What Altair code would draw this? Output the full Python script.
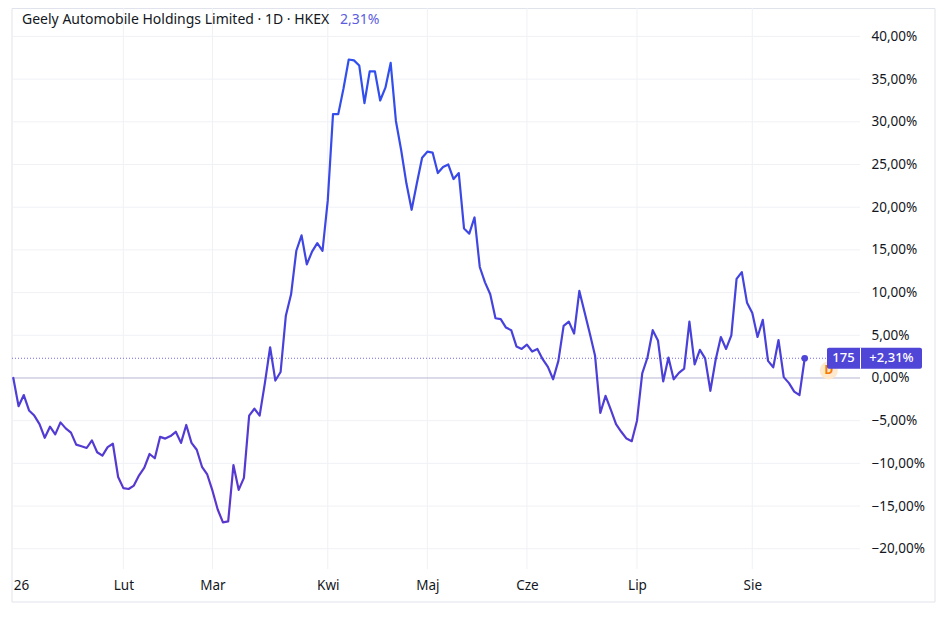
import altair as alt
import pandas as pd

# ---- data ----
values = [
    0.0, -3.3, -2.0, -3.8, -4.4, -5.4, -7.0, -5.7, -6.6, -5.2,
    -5.9, -6.4, -7.8, -8.0, -8.2, -7.3, -8.7, -9.1, -8.1, -7.7,
    -11.6, -12.9, -13.0, -12.6, -11.4, -10.5, -8.9, -9.4, -6.9, -7.1,
    -6.8, -6.3, -7.6, -5.5, -7.6, -8.4, -10.4, -11.3, -13.2, -15.4,
    -16.9, -16.8, -10.2, -13.1, -11.7, -4.4, -3.6, -4.4, -0.6, 3.6,
    -0.3, 0.7, 7.3, 9.8, 14.9, 16.7, 13.3, 14.8, 15.8, 14.9,
    20.8, 30.9, 30.9, 33.9, 37.3, 37.2, 36.6, 32.2, 35.9, 35.9,
    32.5, 34.0, 36.9, 30.1, 26.7, 22.8, 19.7, 22.8, 25.8, 26.5,
    26.4, 24.0, 24.7, 25.0, 23.3, 24.0, 17.5, 16.9, 18.8, 13.0,
    11.2, 9.8, 7.0, 6.9, 5.9, 5.6, 3.7, 3.4, 3.9, 3.1,
    3.4, 2.2, 1.3, -0.15, 2.0, 6.1, 6.6, 5.2, 10.2, 7.7,
    5.2, 2.6, -4.1, -2.1, -3.7, -5.4, -6.3, -7.1, -7.4, -5.0,
    0.55, 2.4, 5.6, 4.4, -0.4, 2.4, -0.15, 0.6, 1.1, 6.6,
    1.6, 3.3, 2.3, -1.5, 2.1, 4.8, 3.4, 5.0, 11.6, 12.4,
    8.8, 7.6, 4.8, 6.8, 2.0, 1.25, 4.45, 0.1, -0.6, -1.6,
    -2.0, 2.31,
]
month_labels = ["26", "Lut", "Mar", "Kwi", "Maj", "Cze", "Lip", "Sie"]
month_starts = [0, 21, 38, 60, 79, 98, 119, 141]   # trading-day index of each month's first session
y_ticks = [-20, -15, -10, -5, 0, 5, 10, 15, 20, 25, 30, 35, 40]
last_value = values[-1]
price_label = "175"
change_label = "+2,31%"
title_main = "Geely Automobile Holdings Limited · 1D · HKEX"
title_change = "2,31%"
dividend_marker = {"i": [155.6], "v": [0.9], "t": ["D"]}

# ---- styling ----
FONT = "Noto Sans"
TEXT = "#131722"
GRID = "#f0f1f5"
ACCENT = "#4f45d6"
W, H = 848, 561
X_DOM = [-0.25, 161.55]
Y_DOM = [-22.37, 43.33]

df = pd.DataFrame({"i": list(range(len(values))), "v": values})
one = pd.DataFrame({"a": [0]})
last_df = df.tail(1)
div_df = pd.DataFrame(dividend_marker)
months_df = pd.DataFrame({"i": month_starts[1:]})
yt_df = pd.DataFrame({"v": [t for t in y_ticks if t != 0]})

label_expr = "''"
for s, lab in zip(month_starts, month_labels):
    label_expr = f"datum.value == {s} ? '{lab}' : ({label_expr})"

x_scale = alt.Scale(domain=X_DOM, nice=False, zero=False)
y_scale = alt.Scale(domain=Y_DOM, nice=False, zero=False)

x_axis = alt.Axis(
    values=month_starts, labelExpr=label_expr, grid=False,
    domain=False, ticks=False, labelPadding=9, labelFontSize=13.5,
    labelColor=TEXT, labelFont=FONT, title=None, labelFlush=False,
    labelAlign={"condition": {"test": "datum.value == 0", "value": "left"}, "value": "center"},
)
y_axis = alt.Axis(
    orient="right", values=y_ticks,
    labelExpr="replace(format(datum.value / 100, '.2%'), '.', ',')",
    grid=False, domain=False, ticks=False, labelPadding=11,
    labelFontSize=13.5, labelColor=TEXT, labelFont=FONT, title=None,
)

gradient = alt.Gradient(
    gradient="linear",
    stops=[alt.GradientStop(color="#5d36cc", offset=0),
           alt.GradientStop(color="#4a40d8", offset=0.35),
           alt.GradientStop(color="#2f50ef", offset=1)],
    x1=0, x2=0, y1=1, y2=0,
)

frame = alt.Chart(one).mark_rect(fill="transparent", stroke="#e0e3eb", strokeWidth=1).encode(
    x=alt.value(0), x2=alt.value(923), y=alt.value(0.5), y2=alt.value(594)
)

vgrid = alt.Chart(months_df).mark_rule(color=GRID, strokeWidth=1).encode(
    x=alt.X("i:Q", scale=x_scale, axis=x_axis), y=alt.value(0), y2=alt.value(H)
)
hgrid = alt.Chart(yt_df).mark_rule(color=GRID, strokeWidth=1).encode(
    y=alt.Y("v:Q", scale=y_scale, axis=y_axis), x=alt.value(0), x2=alt.value(W)
)

line = alt.Chart(df).mark_line(stroke=gradient, strokeWidth=2.2, strokeJoin="round", strokeCap="round").encode(
    x=alt.X("i:Q"),
    y=alt.Y("v:Q"),
)

zero_rule = alt.Chart(one).mark_rule(color="#b7b6d2", strokeWidth=1).encode(
    y=alt.datum(0), x=alt.value(0), x2=alt.value(W)
)
last_rule = alt.Chart(one).mark_rule(color="#7167e6", strokeWidth=1, strokeDash=[1, 2]).encode(
    y=alt.datum(last_value), x=alt.value(0), x2=alt.value(W)
)

end_point = alt.Chart(last_df).mark_circle(size=45, color=ACCENT, opacity=1).encode(x="i:Q", y="v:Q")

div_circle = alt.Chart(div_df).mark_circle(size=330, color="#ffe7c9", opacity=0.9).encode(x="i:Q", y="v:Q")
div_text = alt.Chart(div_df).mark_text(
    color="#f57c00", font=FONT, fontSize=12, fontWeight="bold", baseline="middle", align="center"
).encode(x="i:Q", y="v:Q", text="t:N")

box = alt.Chart(one).mark_rect(color=ACCENT, cornerRadius=2).encode(
    x=alt.value(815), x2=alt.value(910),
    y=alt.datum(last_value + 1.23), y2=alt.datum(last_value - 1.23),
)
box_div = alt.Chart(one).mark_rect(color="white").encode(
    x=alt.value(848), x2=alt.value(849),
    y=alt.datum(last_value + 1.23), y2=alt.datum(last_value - 1.23),
)
box_t1 = alt.Chart(one).mark_text(
    color="white", font=FONT, fontSize=13, fontWeight=500, baseline="middle", align="center"
).encode(x=alt.value(831.5), y=alt.datum(last_value), text=alt.value(price_label))
box_t2 = alt.Chart(one).mark_text(
    color="white", font=FONT, fontSize=13, fontWeight=500, baseline="middle", align="center"
).encode(x=alt.value(879.5), y=alt.datum(last_value), text=alt.value(change_label))

title1 = alt.Chart(one).mark_text(
    color=TEXT, font=FONT, fontSize=14, baseline="middle", align="left"
).encode(x=alt.value(10), y=alt.value(12), text=alt.value(title_main))
title2 = alt.Chart(one).mark_text(
    color="#5b5ce0", font=FONT, fontSize=14, baseline="middle", align="left"
).encode(x=alt.value(328), y=alt.value(12), text=alt.value(title_change))

chart = alt.layer(
    frame, vgrid, hgrid, zero_rule, last_rule, line, end_point, div_circle, div_text,
    box, box_div, box_t1, box_t2, title1, title2,
).properties(
    width=W, height=H, background="white",
    autosize=alt.AutoSizeParams(type="none"),
    padding={"left": 4, "top": 0, "right": 80, "bottom": 40},
).configure_view(
    stroke="transparent", strokeWidth=0
)

chart.save("out.html", embed_options={"renderer": "svg", "actions": False})
